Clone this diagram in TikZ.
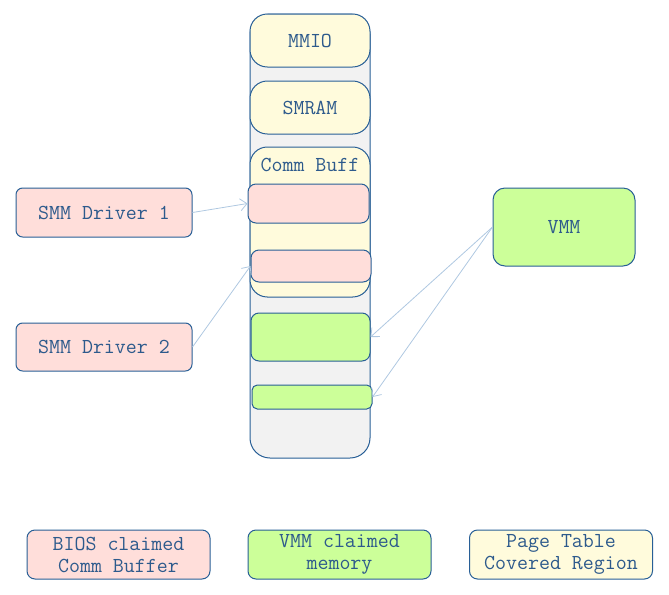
\documentclass[tikz,border=0pt]{standalone}
\usepackage{xcolor}
\usetikzlibrary{
    arrows.meta,
    positioning
}
\definecolor{edgeblue}{RGB}{40,95,150}
\definecolor{textblue}{RGB}{45,90,140}
\definecolor{arrowblue}{RGB}{175,200,225}
\definecolor{pinkfill}{RGB}{255,222,218}
\definecolor{greenfill}{RGB}{204,255,153}
\definecolor{yellowfill}{RGB}{255,251,220}
\definecolor{greyfill}{RGB}{242,242,242}
\tikzset{
    box/.style={draw=edgeblue, line width=0.75pt, inner sep=0pt, text=textblue,
        font=\ttfamily\fontsize{16}{16.5}\selectfont, align=center},
    link/.style={draw=arrowblue, line width=0.6pt, -{Straight Barb[length=5pt,width=9pt]}}
}

\begin{document}
\begin{tikzpicture}[x=0.75pt, y=-0.75pt]
                        \useasboundingbox (0, 0) rectangle (669, 594);
                        % memory column
                        \node[box, fill=greyfill, rounded corners=15pt, minimum width=90pt, minimum height=333pt] (col) at (310, 236) {};
                        \node[box, fill=yellowfill, rounded corners=13pt, minimum width=90pt, minimum height=39.75pt] (mmio) at (310, 40.5) {MMIO};
                        \node[box, fill=yellowfill, rounded corners=13pt, minimum width=90pt, minimum height=39.75pt] (smram) at (310, 107.5) {SMRAM};
                        \node[box, fill=yellowfill, rounded corners=13pt, minimum width=90pt, minimum height=112.5pt] (comm) at (310, 222) {};
                        \node[text=textblue, font=\ttfamily\fontsize{16}{16.5}\selectfont, inner sep=0pt] (commlbl) at (310, 165) {Comm Buff};
                        \node[box, fill=pinkfill, rounded corners=6pt, minimum width=90.75pt, minimum height=29.25pt] (buf1) at (308.5, 203.5) {};
                        \node[box, fill=pinkfill, rounded corners=6pt, minimum width=90pt, minimum height=24pt] (buf2) at (311, 266) {};
                        \node[box, fill=greenfill, rounded corners=6pt, minimum width=89.25pt, minimum height=36pt] (mem1) at (310.5, 337) {};
                        \node[box, fill=greenfill, rounded corners=4pt, minimum width=90pt, minimum height=18pt] (mem2) at (312, 397) {};

                        % drivers and VMM
                        \node[box, fill=pinkfill, rounded corners=5pt, minimum width=132pt, minimum height=36.75pt] (drv1) at (104, 212.5) {SMM Driver 1};
                        \node[box, fill=pinkfill, rounded corners=5pt, minimum width=132pt, minimum height=36pt] (drv2) at (104, 347) {SMM Driver 2};
                        \node[box, fill=greenfill, rounded corners=9pt, minimum width=106.5pt, minimum height=58.5pt] (vmm) at (564, 227) {VMM};

                        % legend
                        \node[box, fill=pinkfill, rounded corners=6pt, minimum width=137.25pt, minimum height=36.75pt] (lgbios) at (118.5, 554.5) {BIOS claimed\\Comm Buffer};
                        \node[box, fill=greenfill, rounded corners=6pt, minimum width=137.25pt, minimum height=36.75pt] (lgvmm) at (339.5, 554.5) {VMM claimed\\memory};
                        \node[box, fill=yellowfill, rounded corners=6pt, minimum width=137.25pt, minimum height=36.75pt] (lgpage) at (561, 554.5) {Page Table\\Covered Region};

                        \draw
                        (drv1.east) edge[link] (buf1.west)
                        (drv2.east) edge[link] (buf2.west)
                        (vmm.west) edge[link] (mem1.east)
                        (vmm.west) edge[link] (mem2.east);
                    \end{tikzpicture}
\end{document}
